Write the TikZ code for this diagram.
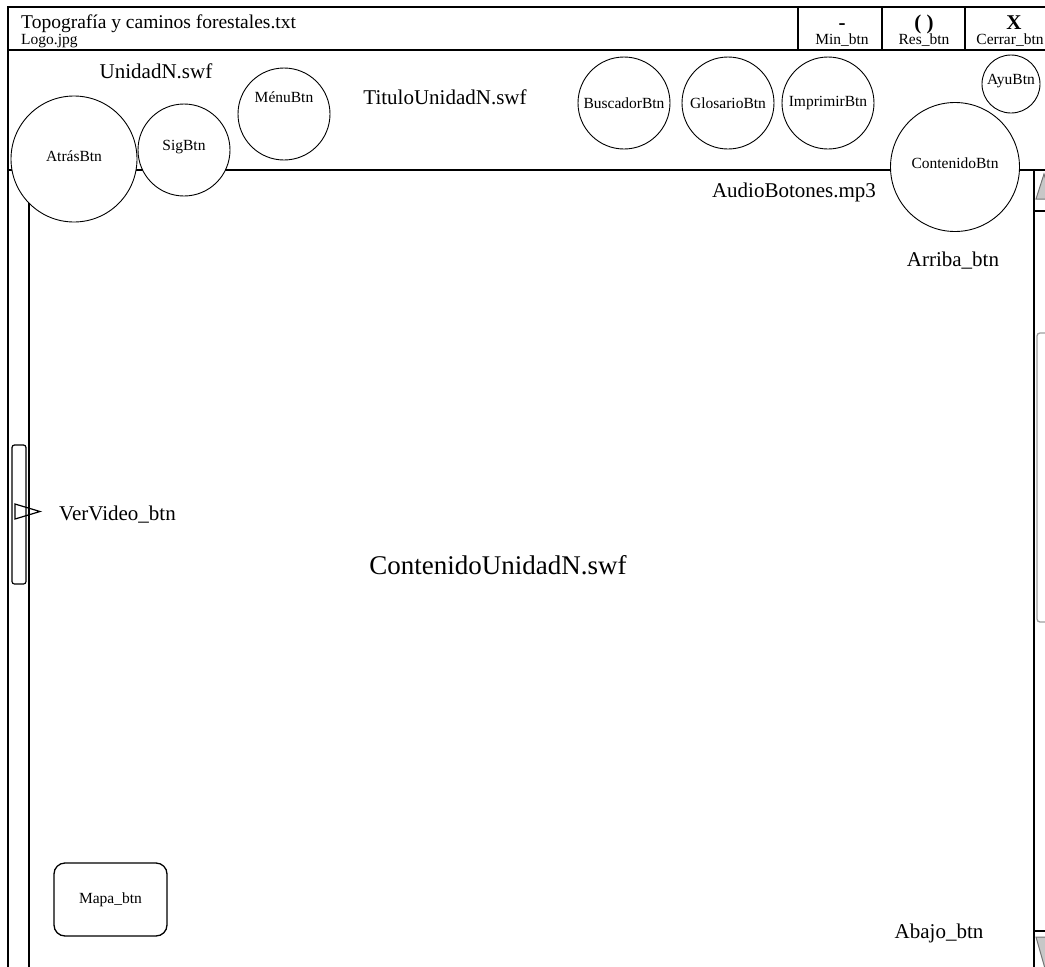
\documentclass[tikz,border=0pt]{standalone}
\usepackage{fontspec}
\setmainfont{Liberation Serif}
\newcommand\fsmall{\fontsize{15.5}{18}\selectfont}
\newcommand\fmid{\fontsize{19.5}{22}\selectfont}
\newcommand\fbig{\fontsize{21}{24}\selectfont}
\newcommand\fhuge{\fontsize{27}{30}\selectfont}
\definecolor{barfill}{gray}{0.78}
\definecolor{baredge}{gray}{0.45}
\definecolor{thumbedge}{gray}{0.62}
\begin{document}
\begin{tikzpicture}[x=1pt,y=-1pt,
  frame/.style={line width=2.8pt},
  btn/.style={circle,draw,line width=0.9pt,fill=white,inner sep=0pt,font=\fsmall},
  rbox/.style={draw,line width=1.3pt,rounded corners=#1,fill=white},
  txt/.style={inner sep=0pt,font=\fbig},
  stxt/.style={inner sep=0pt,font=\fsmall},
  sym/.style={inner sep=0pt,font=\fbig\bfseries},
  arrowtri/.style={draw=baredge,fill=barfill,line width=1pt}
]
\useasboundingbox (0,0) rectangle (1045,967);

% window frame and title bar
\draw[frame] (8,968) -- (8,7) -- (1047,7);
\draw[frame] (8,50) -- (1047,50);
\draw[frame] (798,7) -- (798,50);
\draw[frame] (882,7) -- (882,50);
\draw[frame] (965,7) -- (965,50);

% header / content separators
\draw[frame] (8,170) -- (1047,170);
\draw[frame] (29,170) -- (29,968);
\draw[frame] (1034,170) -- (1034,968);
\draw[frame] (1034,211) -- (1047,211);
\draw[frame] (1034,931) -- (1047,931);

% scroll bar
\draw[arrowtri] (1036,199) -- (1044,174) -- (1052,199) -- cycle;
\draw[arrowtri] (1036,937) -- (1046,972) -- (1056,937) -- cycle;
\draw[thumbedge,line width=1.3pt,rounded corners=3pt] (1062,333) -- (1037,333) -- (1037,622) -- (1062,622);

% title bar texts
\node[anchor=base west,inner sep=0pt,font=\fmid] (title) at (21,28) {Topografía y caminos forestales.txt};
\node[anchor=base west,stxt] (logo) at (21,44) {Logo.jpg};
\node[anchor=base,sym] (minsym) at (842,29) {-};
\node[anchor=base,stxt] (minbtn) at (842,44) {Min\_btn};
\node[anchor=base,sym] (ressym) at (924,29) {( )};
\node[anchor=base,stxt] (resbtn) at (924,44) {Res\_btn};
\node[anchor=base,sym] (xsym) at (1014,29) {X};
\node[anchor=base,stxt] (cerrarbtn) at (1010,44) {Cerrar\_btn};

% header texts
\node[anchor=base,txt] (unidad) at (156,78) {UnidadN.swf};
\node[anchor=base,txt] (titulo) at (445,104) {TituloUnidadN.swf};
\node[anchor=base,txt] (audio) at (794,197) {AudioBotones.mp3};
\node[anchor=base,txt] (arriba) at (953,266) {Arriba\_btn};

% round buttons
\node[btn,minimum size=126pt,label={[stxt,yshift=3pt]center:AtrásBtn}] (atras) at (74,159) {};
\node[btn,minimum size=92pt,label={[stxt,yshift=3pt]center:SigBtn}] (sig) at (184,150) {};
\node[btn,minimum size=92pt,label={[stxt,yshift=17pt]center:MénuBtn}] (menu) at (284,114) {};
\node[btn,minimum size=92pt] (buscador) at (624,103) {BuscadorBtn};
\node[btn,minimum size=92pt] (glosario) at (728,103) {GlosarioBtn};
\node[btn,minimum size=92pt] (imprimir) at (828,103) {ImprimirBtn};
\node[btn,minimum size=58pt,label={[stxt,yshift=3pt]center:AyuBtn}] (ayu) at (1011,84) {};
\node[btn,minimum size=129pt,label={[stxt,yshift=4pt]center:ContenidoBtn}] (contenido) at (955,167) {};

% video control on the left edge
\node[rbox=2.5pt,line width=1.2pt,minimum width=14pt,minimum height=139pt,inner sep=0pt] (videobar) at (19,514.5) {};
\draw[line width=1.2pt] (15,504) -- (40,511.5) -- (15,519) -- cycle;
\node[anchor=base west,txt] (vervideo) at (59,520) {VerVideo\_btn};

% content
\node[txt,font=\fhuge] (contenidounidad) at (498,565) {ContenidoUnidadN.swf};
\node[rbox=11pt,minimum width=113pt,minimum height=73pt,stxt] (mapa) at (110.5,899.5) {Mapa\_btn};
\node[anchor=base,txt] (abajo) at (939,938) {Abajo\_btn};
\end{tikzpicture}
\end{document}
